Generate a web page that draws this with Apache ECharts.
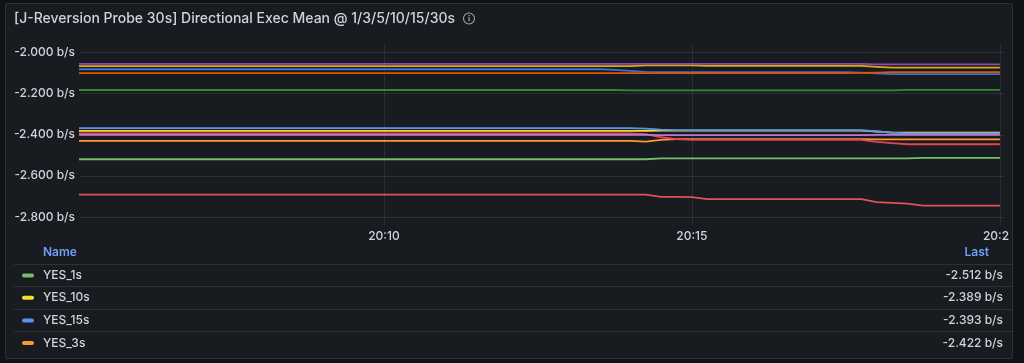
<!DOCTYPE html>
<html><head><meta charset="utf-8">
<script src="https://cdn.jsdelivr.net/npm/echarts@6/dist/echarts.min.js"></script>
<style>
html,body{margin:0;padding:0;background:#111217;width:1024px;height:363px;overflow:hidden}
#panel{position:absolute;left:5px;top:3px;width:1008px;height:356px;background:#181b1f;border:1px solid rgba(204,204,220,0.12);border-radius:2px;box-sizing:border-box}
#chart{position:absolute;left:0;top:0;width:1024px;height:363px}
</style></head><body>
<div id="panel"></div><div id="chart"></div>
<script>
// ---- data (15 s samples, 20:05:00 .. 20:20:00) ----
const titleText = '[J-Reversion Probe 30s] Directional Exec Mean @ 1/3/5/10/15/30s';
const unit = 'b/s';
const xTickLabels = ['20:10', '20:15', '20:20'];
const seriesNames = ['YES_1s','YES_10s','YES_15s','YES_3s','YES_30s','YES_5s','NO_1s','NO_10s','NO_15s','NO_3s','NO_30s','NO_5s'];
const seriesColors = ['#73BF69','#FADE2A','#5794F2','#FF9830','#E0465A','#B877D9','#37872D','#D9B000','#3274D9','#E55400','#E0525E','#9544C2'];
const legendRows = ['YES_1s','YES_10s','YES_15s','YES_3s'];

const YES_1s = [
-2.519,-2.519,-2.519,-2.519,-2.519,-2.519,-2.519,-2.519,-2.519,-2.519,
-2.519,-2.519,-2.519,-2.519,-2.519,-2.519,-2.519,-2.519,-2.519,-2.519,
-2.519,-2.519,-2.519,-2.519,-2.519,-2.519,-2.519,-2.519,-2.519,-2.519,
-2.519,-2.519,-2.519,-2.519,-2.519,-2.519,-2.519,-2.519,-2.515,-2.515,
-2.515,-2.515,-2.515,-2.515,-2.515,-2.515,-2.515,-2.515,-2.515,-2.515,
-2.515,-2.515,-2.515,-2.515,-2.515,-2.512,-2.512,-2.512,-2.512,-2.512,
-2.512];
const YES_10s = [
-2.381,-2.381,-2.381,-2.381,-2.381,-2.381,-2.381,-2.381,-2.381,-2.381,
-2.381,-2.381,-2.381,-2.381,-2.381,-2.381,-2.381,-2.381,-2.381,-2.381,
-2.381,-2.381,-2.381,-2.381,-2.381,-2.381,-2.381,-2.381,-2.381,-2.381,
-2.381,-2.381,-2.381,-2.381,-2.381,-2.381,-2.381,-2.381,-2.380,-2.380,
-2.380,-2.380,-2.380,-2.380,-2.380,-2.380,-2.380,-2.380,-2.380,-2.380,
-2.380,-2.380,-2.384,-2.389,-2.389,-2.389,-2.389,-2.389,-2.389,-2.389,
-2.389];
const YES_15s = [
-2.368,-2.368,-2.368,-2.368,-2.368,-2.368,-2.368,-2.368,-2.368,-2.368,
-2.368,-2.368,-2.368,-2.368,-2.368,-2.368,-2.368,-2.368,-2.368,-2.368,
-2.368,-2.368,-2.368,-2.368,-2.368,-2.368,-2.368,-2.368,-2.368,-2.368,
-2.368,-2.368,-2.368,-2.368,-2.368,-2.368,-2.368,-2.370,-2.375,-2.377,
-2.377,-2.377,-2.377,-2.377,-2.377,-2.377,-2.377,-2.377,-2.377,-2.377,
-2.377,-2.377,-2.384,-2.389,-2.393,-2.393,-2.393,-2.393,-2.393,-2.393,
-2.393];
const YES_3s = [
-2.430,-2.430,-2.430,-2.430,-2.430,-2.430,-2.430,-2.430,-2.430,-2.430,
-2.430,-2.430,-2.430,-2.430,-2.430,-2.430,-2.430,-2.430,-2.430,-2.430,
-2.430,-2.430,-2.430,-2.430,-2.430,-2.430,-2.430,-2.430,-2.430,-2.430,
-2.430,-2.430,-2.430,-2.430,-2.430,-2.430,-2.430,-2.433,-2.425,-2.421,
-2.421,-2.421,-2.421,-2.421,-2.421,-2.421,-2.421,-2.421,-2.421,-2.421,
-2.421,-2.421,-2.422,-2.422,-2.422,-2.422,-2.422,-2.422,-2.422,-2.422,
-2.422];
const YES_30s = [
-2.393,-2.393,-2.393,-2.393,-2.393,-2.393,-2.393,-2.393,-2.393,-2.393,
-2.393,-2.393,-2.393,-2.393,-2.393,-2.393,-2.393,-2.393,-2.393,-2.393,
-2.393,-2.393,-2.393,-2.393,-2.393,-2.393,-2.393,-2.393,-2.393,-2.393,
-2.393,-2.393,-2.393,-2.393,-2.393,-2.393,-2.393,-2.397,-2.412,-2.421,
-2.425,-2.425,-2.425,-2.425,-2.425,-2.425,-2.425,-2.425,-2.425,-2.425,
-2.425,-2.425,-2.434,-2.441,-2.446,-2.446,-2.446,-2.446,-2.446,-2.446,
-2.446];
const YES_5s = [
-2.400,-2.400,-2.400,-2.400,-2.400,-2.400,-2.400,-2.400,-2.400,-2.400,
-2.400,-2.400,-2.400,-2.400,-2.400,-2.400,-2.400,-2.400,-2.400,-2.400,
-2.400,-2.400,-2.400,-2.400,-2.400,-2.400,-2.400,-2.400,-2.400,-2.400,
-2.400,-2.400,-2.400,-2.400,-2.400,-2.400,-2.400,-2.400,-2.402,-2.402,
-2.402,-2.402,-2.402,-2.402,-2.402,-2.402,-2.402,-2.402,-2.402,-2.402,
-2.402,-2.402,-2.400,-2.400,-2.400,-2.400,-2.400,-2.400,-2.400,-2.400,
-2.400];
const NO_1s = [
-2.182,-2.182,-2.182,-2.182,-2.182,-2.182,-2.182,-2.182,-2.182,-2.182,
-2.182,-2.182,-2.182,-2.182,-2.182,-2.182,-2.182,-2.182,-2.182,-2.182,
-2.182,-2.182,-2.182,-2.182,-2.182,-2.182,-2.182,-2.182,-2.182,-2.182,
-2.182,-2.182,-2.182,-2.182,-2.182,-2.182,-2.184,-2.184,-2.184,-2.184,
-2.184,-2.184,-2.184,-2.184,-2.184,-2.184,-2.184,-2.184,-2.184,-2.184,
-2.184,-2.184,-2.184,-2.184,-2.181,-2.181,-2.181,-2.181,-2.181,-2.181,
-2.181];
const NO_10s = [
-2.066,-2.066,-2.066,-2.066,-2.066,-2.066,-2.066,-2.066,-2.066,-2.066,
-2.066,-2.066,-2.066,-2.066,-2.066,-2.066,-2.066,-2.066,-2.066,-2.066,
-2.066,-2.066,-2.066,-2.066,-2.066,-2.066,-2.066,-2.066,-2.066,-2.066,
-2.066,-2.066,-2.066,-2.066,-2.066,-2.066,-2.066,-2.062,-2.062,-2.062,
-2.062,-2.065,-2.065,-2.065,-2.065,-2.065,-2.065,-2.065,-2.065,-2.065,
-2.065,-2.065,-2.069,-2.073,-2.073,-2.073,-2.073,-2.073,-2.073,-2.073,
-2.073];
const NO_15s = [
-2.081,-2.081,-2.081,-2.081,-2.081,-2.081,-2.081,-2.081,-2.081,-2.081,
-2.081,-2.081,-2.081,-2.081,-2.081,-2.081,-2.081,-2.081,-2.081,-2.081,
-2.081,-2.081,-2.081,-2.081,-2.081,-2.081,-2.081,-2.081,-2.081,-2.081,
-2.081,-2.081,-2.081,-2.081,-2.081,-2.084,-2.089,-2.094,-2.095,-2.095,
-2.095,-2.095,-2.095,-2.095,-2.095,-2.095,-2.095,-2.095,-2.095,-2.095,
-2.095,-2.097,-2.101,-2.105,-2.105,-2.105,-2.105,-2.105,-2.105,-2.105,
-2.105];
const NO_3s = [
-2.100,-2.100,-2.100,-2.100,-2.100,-2.100,-2.100,-2.100,-2.100,-2.100,
-2.100,-2.100,-2.100,-2.100,-2.100,-2.100,-2.100,-2.100,-2.100,-2.100,
-2.100,-2.100,-2.100,-2.100,-2.100,-2.100,-2.100,-2.100,-2.100,-2.100,
-2.100,-2.100,-2.100,-2.100,-2.100,-2.100,-2.100,-2.100,-2.100,-2.100,
-2.100,-2.100,-2.100,-2.100,-2.100,-2.100,-2.100,-2.100,-2.100,-2.100,
-2.100,-2.099,-2.097,-2.095,-2.095,-2.095,-2.095,-2.095,-2.095,-2.095,
-2.095];
const NO_30s = [
-2.691,-2.691,-2.691,-2.691,-2.691,-2.691,-2.691,-2.691,-2.691,-2.691,
-2.691,-2.691,-2.691,-2.691,-2.691,-2.691,-2.691,-2.691,-2.691,-2.691,
-2.691,-2.691,-2.691,-2.691,-2.691,-2.691,-2.691,-2.691,-2.691,-2.691,
-2.691,-2.691,-2.691,-2.691,-2.691,-2.691,-2.691,-2.691,-2.702,-2.702,
-2.703,-2.713,-2.713,-2.713,-2.713,-2.713,-2.713,-2.713,-2.713,-2.713,
-2.713,-2.713,-2.728,-2.731,-2.735,-2.745,-2.745,-2.745,-2.745,-2.745,
-2.745];
const NO_5s = [
-2.055,-2.055,-2.055,-2.055,-2.055,-2.055,-2.055,-2.055,-2.055,-2.055,
-2.055,-2.055,-2.055,-2.055,-2.055,-2.055,-2.055,-2.055,-2.055,-2.055,
-2.055,-2.055,-2.055,-2.055,-2.055,-2.055,-2.055,-2.055,-2.055,-2.055,
-2.055,-2.055,-2.055,-2.055,-2.055,-2.055,-2.055,-2.055,-2.055,-2.055,
-2.055,-2.055,-2.055,-2.055,-2.055,-2.055,-2.055,-2.055,-2.055,-2.055,
-2.055,-2.055,-2.057,-2.057,-2.057,-2.057,-2.057,-2.057,-2.057,-2.057,
-2.057];
const seriesValues = [YES_1s,YES_10s,YES_15s,YES_3s,YES_30s,YES_5s,NO_1s,NO_10s,NO_15s,NO_3s,NO_30s,NO_5s];

const T0 = Date.UTC(2024, 0, 1, 20, 5, 0);
const STEP = 15000;
const times = YES_1s.map((_, i) => T0 + i * STEP);
const X_MIN = Date.UTC(2024, 0, 1, 20, 5, 4);
const X_MAX = Date.UTC(2024, 0, 1, 20, 20, 4);
const Y_MIN = -2.839, Y_MAX = -1.963;

const TEXT = '#d2d2dc';
const GRIDC = 'rgba(240,250,255,0.09)';
const FONT = 'Inter, "Noto Sans", sans-serif';
const PANEL_BG = '#181b1f';
const BORDER = '#2e3036';

const pad2 = n => (n < 10 ? '0' : '') + n;
const fmtTime = v => { const d = new Date(v); return pad2(d.getUTCHours()) + ':' + pad2(d.getUTCMinutes()); };

const series = seriesNames.map((name, k) => ({
  name, type: 'line', showSymbol: false, symbol: 'none', animation: false,
  lineStyle: { width: 1.8, color: seriesColors[k] }, itemStyle: { color: seriesColors[k] },
  data: times.map((t, i) => [t, seriesValues[k][i]])
}));

// legend table
const g = [];
function txt(x, y, text, opts) {
  return Object.assign({ type: 'text', x, y, style: Object.assign({ text, fill: TEXT, font: '500 12px ' + FONT,
    align: 'left', verticalAlign: 'middle', textAlign: 'left', textVerticalAlign: 'middle' }, opts || {}) });
}
g.push(txt(14, 18.5, titleText, { font: '500 14px ' + FONT }));
g.push({ type: 'circle', shape: { cx: 469, cy: 18.5, r: 5.5 }, style: { fill: 'none', stroke: '#a0a1aa', lineWidth: 1.1 } });
g.push({ type: 'rect', shape: { x: 468.4, y: 17.3, width: 1.3, height: 4 }, style: { fill: '#a0a1aa' } });
g.push({ type: 'rect', shape: { x: 468.4, y: 15, width: 1.3, height: 1.3 }, style: { fill: '#a0a1aa' } });

g.push(txt(43, 252.5, 'Name', { fill: '#6E9FFF', font: '600 12px ' + FONT }));
g.push(txt(989, 252.5, 'Last', { fill: '#6E9FFF', font: '600 12px ' + FONT, align: 'right', textAlign: 'right' }));
const rowY = [275.5, 297.8, 320.5, 343];
const sepY = [264.5, 286.5, 309.5, 331.5];
sepY.forEach(y => g.push({ type: 'line', shape: { x1: 14, y1: y, x2: 1012, y2: y }, style: { stroke: BORDER, lineWidth: 1 } }));
legendRows.forEach((name, r) => {
  const k = seriesNames.indexOf(name);
  const vals = seriesValues[k];
  const last = vals[vals.length - 1];
  g.push({ type: 'rect', shape: { x: 22, y: rowY[r] - 2, width: 12, height: 4, r: 2 }, style: { fill: seriesColors[k] } });
  g.push(txt(43, rowY[r], name));
  g.push(txt(1003, rowY[r], last.toFixed(3) + ' ' + unit, { align: 'right', textAlign: 'right' }));
});
// clip the last x label at the panel edge like the reference
g.push({ type: 'rect', z: 100, shape: { x: 1009, y: 227, width: 3, height: 18 }, style: { fill: PANEL_BG } });
g.push({ type: 'rect', z: 100, shape: { x: 1012, y: 227, width: 1, height: 18 }, style: { fill: BORDER } });
g.push({ type: 'rect', z: 100, shape: { x: 1013, y: 227, width: 11, height: 18 }, style: { fill: '#111217' } });

const chart = echarts.init(document.getElementById('chart'), null, { renderer: 'canvas' });
chart.setOption({
  backgroundColor: 'transparent',
  animation: false,
  textStyle: { fontFamily: FONT },
  grid: { left: 80, right: 20, top: 45, height: 180, containLabel: false, outerBoundsMode: 'none' },
  xAxis: {
    type: 'value', min: X_MIN, max: X_MAX, minInterval: 300000, maxInterval: 300000,
    axisLine: { show: false }, axisTick: { show: false },
    splitLine: { show: true, showMinLine: false, showMaxLine: false, lineStyle: { color: GRIDC, width: 1 } },
    axisLabel: {
      color: TEXT, fontSize: 12, fontWeight: 500, fontFamily: FONT, margin: 5, showMinLabel: false, showMaxLabel: false,
      formatter: v => { const s = fmtTime(v); return xTickLabels.indexOf(s) >= 0 ? s : ''; }
    }
  },
  yAxis: {
    type: 'value', min: Y_MIN, max: Y_MAX, minInterval: 0.2, maxInterval: 0.2,
    axisLine: { show: false }, axisTick: { show: false },
    splitLine: { show: true, showMinLine: false, showMaxLine: false, lineStyle: { color: GRIDC, width: 1 } },
    axisLabel: {
      color: TEXT, fontSize: 12, fontWeight: 500, fontFamily: FONT, margin: 5, showMinLabel: false, showMaxLabel: false,
      formatter: v => v.toFixed(3) + ' ' + unit
    }
  },
  series,
  graphic: { elements: g }
});
</script></body></html>
